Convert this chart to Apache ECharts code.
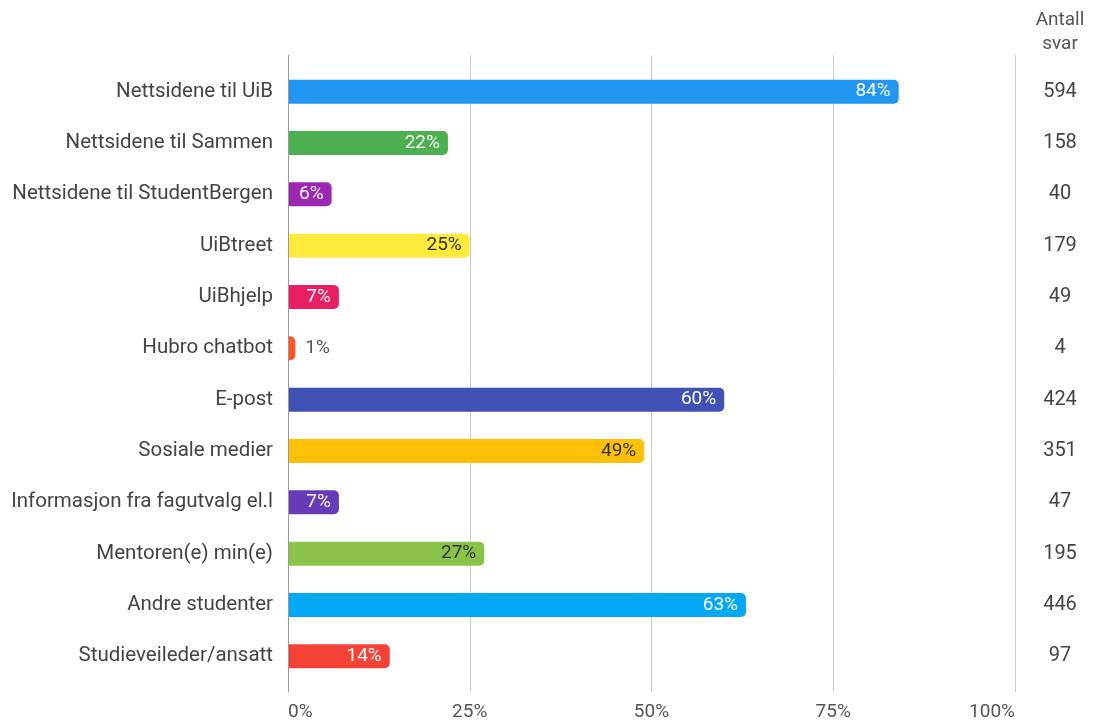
<!DOCTYPE html>
<html>
<head>
<meta charset="utf-8">
<script src="https://cdn.jsdelivr.net/npm/echarts@6/dist/echarts.min.js"></script>
<style>
  html, body { margin: 0; padding: 0; background: #fff; }
  #chart { width: 1096px; height: 722px; }
</style>
</head>
<body>
<div id="chart"></div>
<script>
var categories = ['Nettsidene til UiB', 'Nettsidene til Sammen', 'Nettsidene til StudentBergen', 'UiBtreet',
  'UiBhjelp', 'Hubro chatbot', 'E-post', 'Sosiale medier', 'Informasjon fra fagutvalg el.l',
  'Mentoren(e) min(e)', 'Andre studenter', 'Studieveileder/ansatt'];
var percents = [84, 22, 6, 25, 7, 1, 60, 49, 7, 27, 63, 14];
var counts = [594, 158, 40, 179, 49, 4, 424, 351, 47, 195, 446, 97];
var colors = ['#2196F3', '#4CAF50', '#9C27B0', '#FFEB3B', '#E91E63', '#FF5722',
  '#3F51B5', '#FFC107', '#673AB7', '#8BC34A', '#03A9F4', '#F44336'];
var darkText = ['#FFEB3B', '#FFC107', '#8BC34A'];
var xTicks = [0, 25, 50, 75, 100];

var chart = echarts.init(document.getElementById('chart'));
var font = 'Roboto, "Noto Sans", sans-serif';

var barData = percents.map(function (v, i) {
  var small = v < 3;
  return {
    value: v,
    itemStyle: { color: colors[i] },
    label: {
      position: small ? 'right' : 'insideRight',
      color: small ? '#555' : (darkText.indexOf(colors[i]) >= 0 ? '#333' : '#fff'),
      distance: small ? 10 : 8
    }
  };
});

chart.setOption({
  animation: false,
  textStyle: { fontFamily: font },
  graphic: [{
    type: 'text', x: 1060, y: 8,
    style: { text: 'Antall\nsvar', fill: '#555', font: '19px ' + font, textAlign: 'center', lineHeight: 24 }
  }],
  grid: [
    { left: 288, right: 81, top: 55, bottom: 30 },
    { left: 288, right: 81, top: 66, bottom: 40 }
  ],
  xAxis: [{
    gridIndex: 0, type: 'value', min: xTicks[0], max: xTicks[xTicks.length - 1], interval: 25,
    axisLine: { show: false }, axisTick: { show: false },
    axisLabel: { formatter: '{value}%', color: '#555', fontSize: 19, margin: 11, alignMinLabel: 'left', alignMaxLabel: 'right' },
    splitLine: { lineStyle: { color: '#ccc', width: 1 } }
  }, {
    gridIndex: 1, type: 'value', min: 0, max: 100, show: false
  }],
  yAxis: [{
    gridIndex: 0, type: 'category', data: categories, show: false
  }, {
    gridIndex: 1, type: 'category', data: categories, inverse: true,
    axisLine: { show: false }, axisTick: { show: false },
    axisLabel: { color: '#444', fontSize: 20.5, margin: 15 }
  }, {
    gridIndex: 1, type: 'category', data: counts, inverse: true, position: 'right',
    axisLine: { show: false }, axisTick: { show: false },
    axisLabel: { color: '#444', fontSize: 20, margin: 45, align: 'center' }
  }],
  series: [{
    type: 'bar', xAxisIndex: 1, yAxisIndex: 1,
    data: barData,
    barWidth: 24,
    itemStyle: { borderRadius: [0, 5, 5, 0] },
    label: { show: true, formatter: '{c}%', fontSize: 19 }
  }, {
    type: 'line', xAxisIndex: 0, yAxisIndex: 0, data: [],
    markLine: {
      silent: true, symbol: 'none', label: { show: false },
      lineStyle: { color: '#999', type: 'solid', width: 1 },
      data: [{ xAxis: 0 }]
    }
  }]
});
</script>
</body>
</html>
